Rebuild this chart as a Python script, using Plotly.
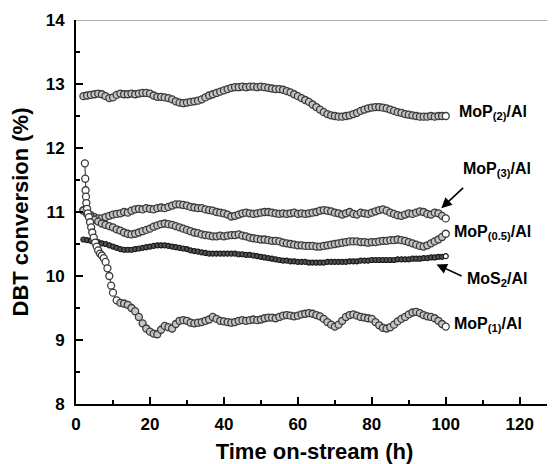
import plotly.graph_objects as go

# Time (h) for the four smoother series
time_h = list(range(2, 101))

mop2 = [12.81, 12.82, 12.83, 12.84, 12.85, 12.84, 12.81, 12.78, 12.79, 12.83,
        12.85, 12.84, 12.84, 12.85, 12.84, 12.85, 12.86, 12.86, 12.85, 12.82,
        12.80, 12.80, 12.79, 12.78, 12.76, 12.73, 12.71, 12.70, 12.71, 12.72,
        12.73, 12.74, 12.76, 12.79, 12.82, 12.84, 12.86, 12.88, 12.90, 12.92,
        12.94, 12.95, 12.95, 12.96, 12.95, 12.96, 12.96, 12.95, 12.96, 12.95,
        12.94, 12.93, 12.92, 12.92, 12.91, 12.89, 12.87, 12.84, 12.81, 12.78,
        12.75, 12.72, 12.68, 12.64, 12.60, 12.56, 12.53, 12.51, 12.50, 12.49,
        12.49, 12.50, 12.51, 12.53, 12.55, 12.58, 12.60, 12.62, 12.63, 12.64,
        12.64, 12.63, 12.62, 12.60, 12.58, 12.56, 12.55, 12.53, 12.52, 12.51,
        12.50, 12.49, 12.49, 12.49, 12.50, 12.49, 12.50, 12.50, 12.50]

mop3 = [11.03, 10.98, 10.95, 10.92, 10.90, 10.90, 10.92, 10.94, 10.96, 10.97,
        10.98, 11.00, 10.99, 11.02, 11.04, 11.05, 11.04, 11.06, 11.05, 11.04,
        11.06, 11.07, 11.06, 11.08, 11.10, 11.12, 11.12, 11.11, 11.10, 11.08,
        11.07, 11.06, 11.06, 11.04, 11.03, 11.02, 11.00, 10.99, 10.98, 10.96,
        10.93, 10.94, 10.96, 10.98, 10.99, 10.98, 10.97, 10.98, 10.99, 11.00,
        11.00, 10.99, 10.98, 10.97, 10.98, 10.97, 10.98, 10.99, 10.97, 10.98,
        10.97, 10.98, 10.99, 11.00, 11.02, 11.03, 11.02, 11.01, 10.99, 10.98,
        10.96, 10.98, 11.00, 10.97, 10.96, 10.99, 10.98, 10.97, 10.99, 11.01,
        11.03, 11.04, 11.02, 10.99, 10.97, 10.95, 10.94, 10.96, 10.98, 10.97,
        10.99, 11.01, 11.00, 10.97, 10.96, 10.99, 10.98, 10.94, 10.90]

mop05 = [11.02, 10.97, 10.92, 10.88, 10.85, 10.82, 10.80, 10.78, 10.76, 10.73,
         10.71, 10.68, 10.66, 10.65, 10.66, 10.68, 10.70, 10.72, 10.74, 10.77,
         10.79, 10.81, 10.82, 10.81, 10.80, 10.78, 10.76, 10.74, 10.72, 10.70,
         10.68, 10.67, 10.65, 10.64, 10.63, 10.62, 10.62, 10.63, 10.62, 10.63,
         10.64, 10.64, 10.65, 10.63, 10.62, 10.60, 10.59, 10.58, 10.57, 10.57,
         10.56, 10.55, 10.55, 10.54, 10.52, 10.51, 10.50, 10.49, 10.48, 10.48,
         10.47, 10.47, 10.47, 10.46, 10.46, 10.47, 10.48, 10.49, 10.50, 10.51,
         10.52, 10.53, 10.54, 10.54, 10.54, 10.53, 10.53, 10.52, 10.53, 10.53,
         10.54, 10.55, 10.55, 10.56, 10.56, 10.57, 10.56, 10.55, 10.53, 10.51,
         10.49, 10.47, 10.46, 10.48, 10.51, 10.54, 10.57, 10.61, 10.66]

mos2 = [10.57, 10.56, 10.55, 10.54, 10.53, 10.51, 10.50, 10.48, 10.46, 10.44,
        10.42, 10.41, 10.41, 10.41, 10.42, 10.43, 10.44, 10.45, 10.46, 10.47,
        10.48, 10.48, 10.48, 10.47, 10.46, 10.45, 10.44, 10.43, 10.42, 10.40,
        10.39, 10.38, 10.37, 10.36, 10.35, 10.35, 10.35, 10.35, 10.35, 10.35,
        10.35, 10.35, 10.34, 10.34, 10.33, 10.33, 10.32, 10.31, 10.30, 10.29,
        10.28, 10.27, 10.26, 10.25, 10.24, 10.24, 10.23, 10.23, 10.22, 10.22,
        10.22, 10.21, 10.21, 10.21, 10.21, 10.21, 10.22, 10.22, 10.22, 10.22,
        10.22, 10.22, 10.23, 10.23, 10.23, 10.24, 10.24, 10.24, 10.25, 10.25,
        10.25, 10.25, 10.25, 10.25, 10.25, 10.26, 10.26, 10.26, 10.26, 10.27,
        10.27, 10.27, 10.28, 10.28, 10.29, 10.29, 10.30, 10.30, 10.31]

# MoP(1)/Al has denser sampling at the start
time_mop1 = [2.4, 2.5, 2.6, 2.7, 2.8, 3.0, 3.2, 3.5, 3.8, 4.1, 4.4, 4.8, 5.2,
             5.6, 6.0, 6.5, 7.0, 7.5, 8.0, 8.5, 9.0, 9.5] + list(range(10, 101))
mop1 = [11.76, 11.52, 11.34, 11.24, 11.14, 11.05, 10.98, 10.92, 10.84, 10.76,
        10.68, 10.60, 10.52, 10.46, 10.40, 10.35, 10.32, 10.28, 10.22, 10.12,
        10.00, 9.85,
        9.74, 9.62, 9.58, 9.57, 9.55, 9.50, 9.45, 9.36, 9.26, 9.18,
        9.13, 9.10, 9.09, 9.16, 9.22, 9.20, 9.18, 9.25, 9.30, 9.31,
        9.30, 9.27, 9.26, 9.27, 9.28, 9.30, 9.32, 9.36, 9.33, 9.30,
        9.29, 9.28, 9.27, 9.28, 9.30, 9.31, 9.30, 9.31, 9.32, 9.31,
        9.32, 9.34, 9.35, 9.35, 9.34, 9.36, 9.38, 9.39, 9.38, 9.37,
        9.38, 9.40, 9.41, 9.42, 9.41, 9.39, 9.37, 9.33, 9.28, 9.24,
        9.21, 9.24, 9.30, 9.36, 9.39, 9.40, 9.38, 9.36, 9.35, 9.34,
        9.33, 9.28, 9.23, 9.19, 9.18, 9.20, 9.24, 9.29, 9.33, 9.36,
        9.40, 9.43, 9.44, 9.42, 9.39, 9.37, 9.36, 9.34, 9.30, 9.25,
        9.21]

FONT = "Liberation Sans, Arial, sans-serif"

fig = go.Figure()

def add(x, y, size=7, fill="#c4c4c4", edge="#3a3a3a", ew=1.3, n_white_start=0):
    n = len(y)
    colors = [fill] * n
    for i in range(n_white_start):
        colors[i] = "white"
    colors[-1] = "white"
    fig.add_trace(go.Scatter(
        x=x, y=y, mode="lines+markers",
        line=dict(color="#222222", width=1),
        marker=dict(symbol="circle", size=size, color=colors,
                    line=dict(color=edge, width=ew)),
        showlegend=False, hoverinfo="skip"))

add(time_h, mop2)
add(time_h, mop3)
add(time_h, mop05)
add(time_h, mos2, size=5, fill="#555555", edge="#1a1a1a", ew=1.2)
add(time_mop1, mop1, n_white_start=24)

labels = [
    ("MoP<sub>(2)</sub>/Al", 103.0, 12.55),
    ("MoP<sub>(3)</sub>/Al", 104.0, 11.66),
    ("MoP<sub>(0.5)</sub>/Al", 101.6, 10.68),
    ("MoS<sub>2</sub>/Al", 105.3, 9.94),
    ("MoP<sub>(1)</sub>/Al", 101.6, 9.25),
]
for txt, x, y in labels:
    fig.add_annotation(x=x, y=y, text=txt, showarrow=False, xanchor="left",
                       yanchor="middle",
                       font=dict(family=FONT, size=16, color="black", weight="bold"))

# Arrows
for (hx, hy, tx, ty) in [(98.8, 11.06, 105.1, 11.40), (97.5, 10.18, 104.7, 9.99)]:
    fig.add_annotation(x=hx, y=hy, ax=tx, ay=ty, xref="x", yref="y",
                       axref="x", ayref="y", text="", showarrow=True,
                       arrowhead=2, arrowsize=1.3, arrowwidth=1.6,
                       arrowcolor="black")

# Top frame line (gray)
fig.add_shape(type="line", xref="paper", yref="y", x0=0, x1=1, y0=14, y1=14,
              line=dict(color="#999999", width=1.5))

# The page body adds an 8px offset; size the figure to fit the window.
fig.update_layout(
    width=547, height=456,
    margin=dict(l=68, r=2, t=12, b=60),
    plot_bgcolor="white", paper_bgcolor="white",
    font=dict(family=FONT, color="black"),
)
fig.update_xaxes(
    range=[0, 129], tickvals=[0, 20, 40, 60, 80, 100, 120], automargin=False,
    ticks="inside", ticklen=7, tickwidth=1.5, tickcolor="black",
    minor=dict(dtick=10, tick0=0, ticks="inside", ticklen=4, tickwidth=1.5, tickcolor="black"),
    showline=True, linecolor="black", linewidth=2, showgrid=False, zeroline=False,
    ticklabelstandoff=4,
    tickfont=dict(family=FONT, size=17, weight="bold"),
    title=dict(text="Time on-stream (h)", standoff=14,
               font=dict(family=FONT, size=22, weight="bold")),
)
fig.update_yaxes(
    range=[8, 14], tickvals=[8, 9, 10, 11, 12, 13, 14], automargin=False,
    ticks="inside", ticklen=7, tickwidth=1.5, tickcolor="black",
    minor=dict(dtick=0.5, tick0=8, ticks="inside", ticklen=4, tickwidth=1.5, tickcolor="black"),
    showline=True, linecolor="black", linewidth=2, showgrid=False, zeroline=False,
    ticklabelstandoff=6,
    tickfont=dict(family=FONT, size=17, weight="bold"),
    title=dict(text="DBT conversion (%)", standoff=12,
               font=dict(family=FONT, size=22, weight="bold")),
)

fig.write_html("out.html")
